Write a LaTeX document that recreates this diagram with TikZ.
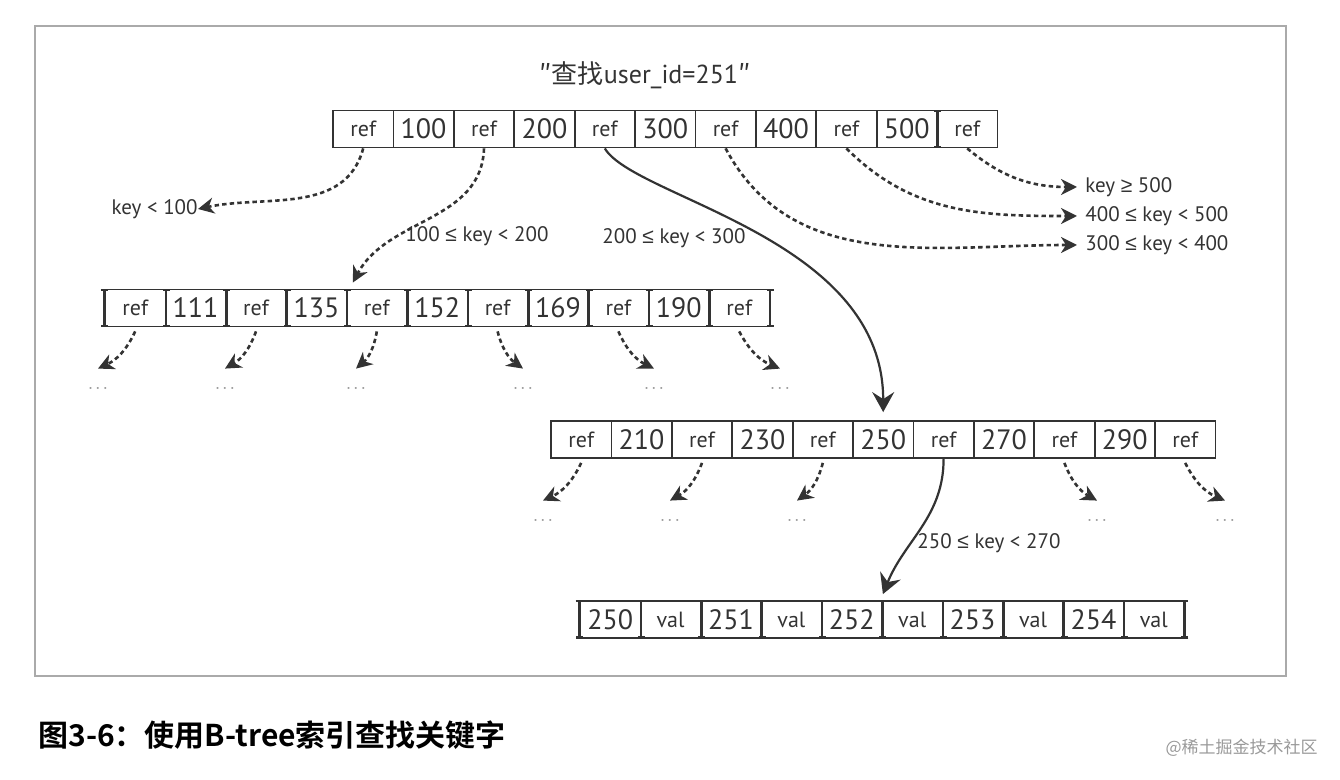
\documentclass[tikz,border=0pt]{standalone}
\usepackage{fontspec}
\setmainfont{PT Sans}
\newfontfamily\cjkfont{Noto Sans CJK SC}
\newfontfamily\cjkbold{Noto Sans CJK SC Bold}
\newfontfamily\symfont{Liberation Sans}
\usetikzlibrary{arrows.meta, positioning}
\definecolor{ink}{HTML}{333333}
\definecolor{framegray}{HTML}{AAAAAA}
\newcommand{\refsize}{\fontsize{11}{12}\selectfont}
\newcommand{\numsize}{\fontsize{14}{15}\selectfont}
\newcommand{\lsym}{{\symfont ≤}}
\newcommand{\gsym}{{\symfont ≥}}

\begin{document}
\begin{tikzpicture}[x=0.5pt, y=0.5pt,
    cell/.style={rectangle, draw=ink, line width=0.9pt, minimum width=30.2pt, minimum height=18.5pt, inner sep=0pt, text=ink},
    ibeam/.style={{Bar[width=3.5pt, line width=1.2pt]}-{Bar[width=3.5pt, line width=1.2pt]}, line width=0.9pt, ink},
    lbl/.style={font=\fontsize{10.5}{12}\selectfont, text=ink, inner sep=1pt},
    more/.style={font=\fontsize{8.5}{9}\selectfont, text=black!40, inner sep=1pt},
    ptr/.style={-{Stealth[length=8pt, width=8pt, inset=2.5pt]}, dash pattern=on 2.2pt off 1.6pt, line width=1.3pt, ink},
    follow/.style={-{Stealth[length=10pt, width=11pt, inset=3.5pt]}, line width=1.1pt, ink}
  ]
    \useasboundingbox (0,0) rectangle (1340,-780);
    \draw[framegray, line width=1pt] (35,-26) rectangle (1286,-676);

    % query
    \node[font=\fontsize{13}{15}\selectfont, text=ink] (query) at (645,-75) {{\cjkfont ″查找}user\_id=251{\cjkfont ″}};

    % root page
    \foreach \t [count=\i] in {ref,100,ref,200,ref,300,ref,400,ref,500,ref} {
      \ifodd\i \def\cf{\refsize}\else \def\cf{\numsize}\fi
      \node[cell, font=\cf] (root-\i) at ({302.8+60.4*\i},-129) {\t};
    }
    \draw[ibeam] (root-10.north east) -- (root-10.south east);

    % second level
    \foreach \t [count=\i] in {ref,111,ref,135,ref,152,ref,169,ref,190,ref} {
      \ifodd\i \def\cf{\refsize}\else \def\cf{\numsize}\fi
      \node[cell, font=\cf] (lv1-\i) at ({74.8+60.4*\i},-308) {\t};
      \draw[ibeam] (lv1-\i.north east) -- (lv1-\i.south east);
    }
    \draw[ibeam] (lv1-1.north west) -- (lv1-1.south west);
    \foreach \t [count=\i] in {ref,210,ref,230,ref,250,ref,270,ref,290,ref} {
      \ifodd\i \def\cf{\refsize}\else \def\cf{\numsize}\fi
      \node[cell, font=\cf] (lv2-\i) at ({520.8+60.4*\i},-439.5) {\t};
    }

    % leaf page
    \foreach \t [count=\i] in {250,val,251,val,252,val,253,val,254,val} {
      \ifodd\i \def\cf{\numsize}\else \def\cf{\refsize}\fi
      \node[cell, font=\cf] (leaf-\i) at ({549.8+60.4*\i},-619.5) {\t};
      \draw[ibeam] (leaf-\i.north east) -- (leaf-\i.south east);
    }
    \draw[ibeam] (leaf-1.north west) -- (leaf-1.south west);

    % range labels
    \node[lbl, anchor=east] (lt100) at (200,-209) {key < 100};
    \node[lbl] (in100) at (477,-236) {100 \lsym{} key < 200};
    \node[lbl] (in200) at (674,-238) {200 \lsym{} key < 300};
    \node[lbl, anchor=west] (ge500) at (1083,-187) {key \gsym{} 500};
    \node[lbl, anchor=west] (in400) at (1083,-216) {400 \lsym{} key < 500};
    \node[lbl, anchor=west] (in300) at (1083,-245) {300 \lsym{} key < 400};
    \node[lbl] (in250) at (989,-543) {250 \lsym{} key < 270};

    \draw[ptr] (root-1.south) to[out=-105, in=12] ([xshift=-1pt]lt100.east);
    \draw[ptr] (root-3.south) to[out=-92, in=62] ([xshift=-12pt, yshift=3pt]lv1-5.north);
    \draw[ptr] (root-7.south) to[out=-62, in=180] ([xshift=-3pt]in300.west);
    \draw[ptr] (root-9.south) to[out=-45, in=180] ([xshift=-3pt]in400.west);
    \draw[ptr] (root-11.south) to[out=-40, in=180] ([xshift=-3pt]ge500.west);

    \draw[follow] (root-5.south) .. controls +(30,-50) and +(0,175) .. ([yshift=4pt]lv2-6.north);
    \draw[follow] (lv2-7.south) to[out=-90, in=68] ([yshift=3pt]leaf-5.north east);

    % subtrees not followed
    \foreach \k/\x/\b in {1/98/left, 3/225/left, 5/356/left, 7/523/right, 9/654/right, 11/780/right} {
      \node[more] (lv1-more-\k) at (\x,-390) {·\,·\,·};
      \draw[ptr] ([yshift=-2pt]lv1-\k.south) to[bend \b=20] ([yshift=8pt]lv1-more-\k.north);
    }
    \foreach \k/\x/\b in {1/543/left, 3/670/left, 5/797/left, 9/1097/right, 11/1225/right} {
      \node[more] (lv2-more-\k) at (\x,-522) {·\,·\,·};
      \draw[ptr] ([yshift=-2pt]lv2-\k.south) to[bend \b=20] ([yshift=8pt]lv2-more-\k.north);
    }

    % caption
    \node[anchor=west, font=\fontsize{15}{17}\selectfont\cjkbold, inner sep=0pt] (caption) at (38,-735) {图3-6：使用B-tree索引查找关键字};
    \node[anchor=east, font=\fontsize{8.5}{10}\selectfont\cjkfont, text=black!40, inner sep=0pt] (mark) at (1318,-748) {@稀土掘金技术社区};
\end{tikzpicture}
\end{document}
